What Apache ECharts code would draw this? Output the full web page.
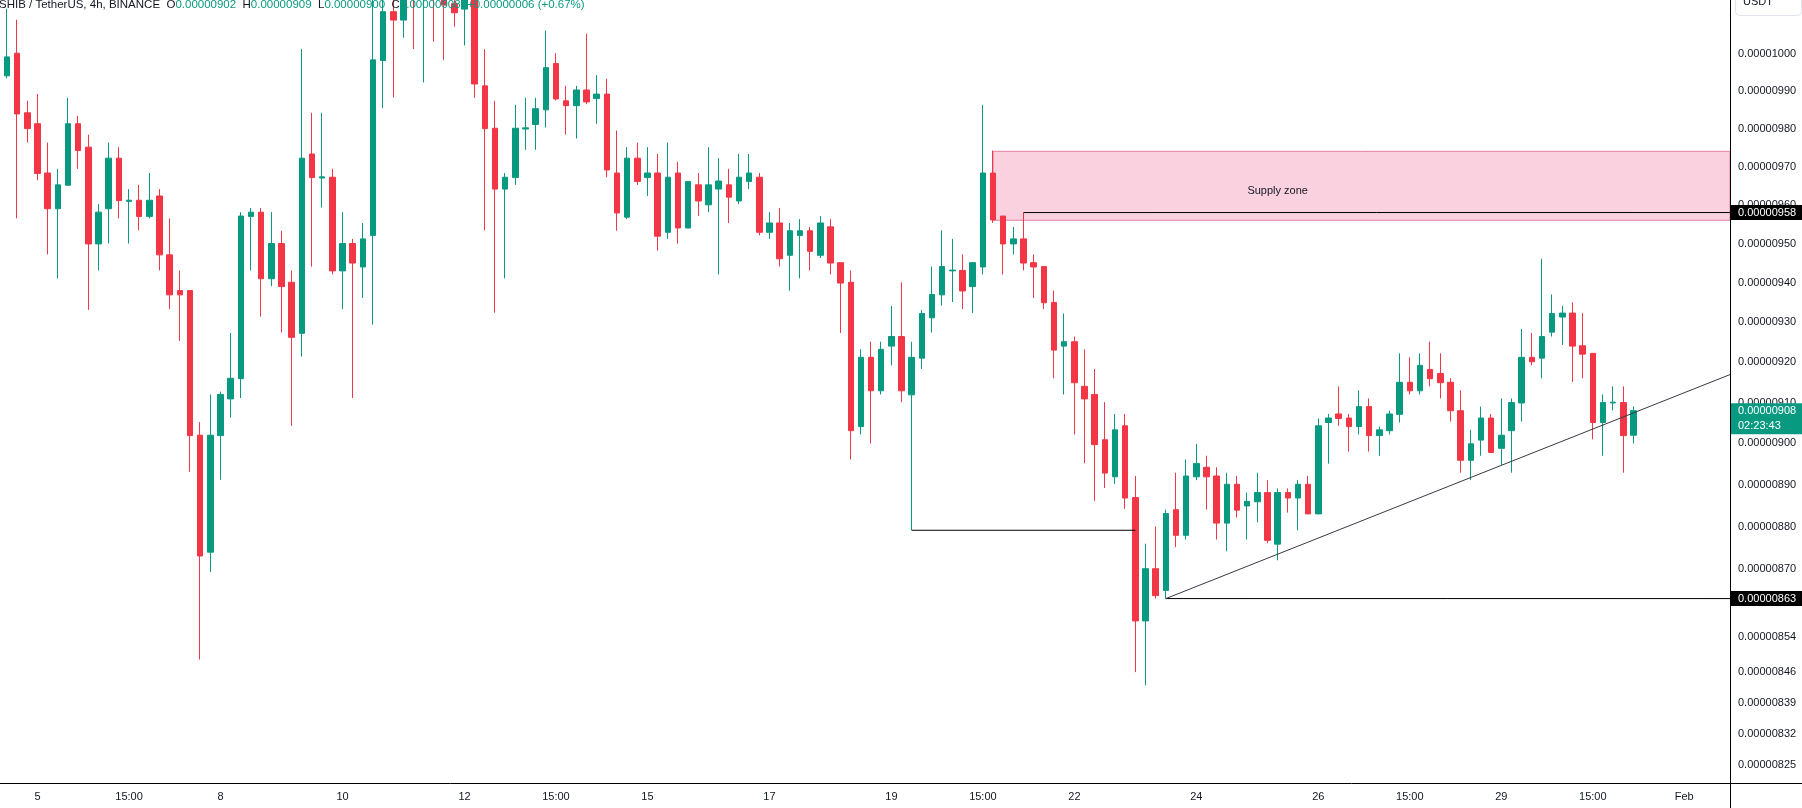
<!DOCTYPE html>
<html>
<head>
<meta charset="utf-8">
<title>SHIB / TetherUS, 4h, BINANCE</title>
<script src="https://cdn.jsdelivr.net/npm/echarts@6/dist/echarts.min.js"></script>
<style>
  html, body { margin: 0; padding: 0; background: #fff; }
  #chart { width: 1802px; height: 808px; }
</style>
</head>
<body>
<div id="chart"></div>
<script>
// all prices are in units of 0.00000001 USDT
const firstBar = Date.UTC(2024, 0, 4, 15); // exchange time, 4h bars
const slotCount = 170; // visible bar slots incl. empty space on the right

const opens = [
  994.1, 1000.2, 984.2, 981.3, 968.3, 959.0, 965.1, 981.3, 975.1, 949.9,
  959.0, 972.2, 960.9, 961.2, 957.0, 962.3, 947.1, 938.0, 938.0, 902.0,
  873.9, 901.9, 910.9, 915.9, 957.0, 958.1, 941.0, 950.0, 940.1, 927.2,
  973.3, 967.0, 967.2, 943.0, 950.0, 944.0, 952.1, 998.2, 1011.5, 1009.2,
  1026, 1018, 1025, 1017, 1013.7, 1012.2, 1019, 991.4, 980.1, 964.1,
  967.1, 979.9, 981.1, 985.0, 997.4, 987.4, 986.1, 990.3, 988.0, 989.2,
  968.3, 956.8, 972.2, 967.1, 968.3, 952.9, 968.3, 954.0, 965.2, 960.0,
  964.1, 965.2, 961.0, 966.1, 967.2, 952.9, 955.3, 947.0, 952.1, 953.3,
  947.0, 954.3, 945.1, 940.1, 904.1, 921.2, 912.9, 924.0, 926.4, 911.9,
  921.0, 931.1, 936.9, 943.0, 943.1, 939.0, 944.0, 968.3, 957.1, 949.9,
  951.2, 945.1, 944.1, 935.0, 924.0, 925.1, 914.0, 912.0, 900.9, 891.9,
  904.3, 886.9, 857.8, 870.0, 864.9, 884.0, 877.9, 891.9, 894.2, 892.1,
  880.8, 890.1, 884.9, 885.9, 888.1, 875.8, 888.1, 886.8, 890.1, 883.0,
  905.1, 907.2, 906.2, 904.1, 909.0, 901.9, 903.1, 907.1, 915.0, 912.9,
  918.2, 917.2, 915.0, 908.0, 895.9, 900.8, 906.2, 898.8, 903.1, 909.9,
  921.2, 921.0, 927.5, 931.3, 932.3, 924.1, 922.2, 905.1, 909.9, 910.0,
  902.0
];
const closes = [
  999.2, 983.9, 980.0, 968.2, 959.0, 965.2, 981.3, 974.2, 949.9, 958.1,
  972.2, 961.1, 961.2, 957.0, 961.2, 947.1, 936.9, 936.9, 901.9, 873.0,
  902.0, 912.0, 916.0, 957.1, 958.1, 941.0, 950.0, 939.0, 926.2, 972.2,
  967.1, 967.3, 943.0, 950.0, 945.0, 951.2, 998.4, 1011.5, 1009.2, 1022,
  1018, 1025, 1017, 1013.3, 1011.2, 1019, 991.9, 980.0, 964.1, 967.2,
  980.1, 980.2, 985.3, 996.3, 987.9, 986.1, 990.3, 987.1, 989.2, 969.1,
  957.9, 972.2, 966.1, 968.3, 951.9, 967.2, 954.0, 966.1, 961.0, 965.2,
  966.2, 962.0, 967.2, 968.3, 952.9, 955.3, 946.1, 953.3, 953.3, 948.0,
  955.3, 945.0, 939.9, 903.1, 921.2, 912.9, 923.2, 926.4, 912.9, 921.2,
  932.2, 937.0, 944.1, 943.2, 937.9, 945.1, 968.3, 956.1, 949.9, 951.2,
  945.0, 944.0, 934.9, 923.0, 925.1, 914.9, 910.9, 899.7, 892.8, 903.3,
  886.8, 857.8, 870.0, 863.7, 883.1, 877.9, 892.1, 895.1, 891.9, 880.8,
  890.1, 883.9, 886.0, 888.1, 876.7, 888.1, 886.8, 890.1, 883.0, 904.3,
  906.2, 906.1, 904.1, 909.0, 901.9, 903.3, 907.2, 915.0, 912.9, 919.2,
  915.9, 914.9, 908.0, 895.9, 899.9, 906.2, 897.8, 902.0, 910.0, 921.2,
  920.1, 926.4, 932.2, 932.3, 924.0, 922.0, 905.1, 910.0, 910.1, 901.9,
  908.0
];
const lows = [
  993.4, 956.5, 976.3, 966.4, 947.2, 941.1, 965.1, 969.4, 933.1, 943.1,
  950.0, 956.5, 950.0, 953.4, 956.5, 943.1, 933.3, 925.3, 893.1, 848.9,
  869.2, 891.2, 906.3, 911.1, 943.1, 931.4, 939.1, 927.4, 904.3, 921.4,
  944.1, 959.3, 942.1, 933.3, 911.1, 936.1, 929.4, 985.4, 988.3, 1004.4,
  1001.3, 992.3, 1003.3, 998.4, 1007.4, 1002.3, 988.2, 953.4, 932.4, 941.1,
  965.2, 974.4, 974.4, 980.3, 987.5, 978.4, 977.4, 986.5, 981.3, 967.2,
  953.3, 956.3, 965.2, 962.3, 948.2, 951.2, 950.0, 954.0, 957.1, 958.1,
  942.1, 955.3, 960.2, 964.1, 952.1, 951.2, 944.1, 938.0, 941.1, 943.1,
  946.3, 942.1, 927.3, 896.1, 902.2, 900.0, 912.0, 919.2, 910.1, 879.1,
  918.3, 927.4, 934.2, 935.1, 933.3, 932.3, 942.1, 955.3, 942.1, 947.2,
  943.1, 936.1, 933.3, 916.0, 912.0, 902.2, 895.2, 886.1, 889.2, 890.2,
  884.2, 846.0, 843.0, 863.0, 863.0, 875.1, 876.9, 891.1, 884.0, 876.9,
  874.1, 882.1, 876.9, 881.0, 876.0, 872.0, 883.3, 879.1, 883.0, 883.0,
  895.1, 904.3, 898.0, 902.2, 898.0, 897.0, 902.2, 905.1, 912.0, 912.0,
  914.0, 911.0, 905.3, 892.9, 891.1, 897.0, 897.8, 894.8, 892.9, 905.3,
  919.2, 916.0, 926.4, 924.3, 915.1, 916.0, 901.0, 897.0, 908.1, 892.9,
  900.0
];
const highs = [
  1012.3, 1009.3, 987.4, 989.2, 976.3, 969.4, 988.2, 983.4, 978.4, 960.2,
  976.3, 975.1, 964.1, 965.2, 968.3, 964.1, 956.5, 943.1, 938.0, 905.2,
  912.0, 912.7, 927.3, 958.1, 959.2, 959.2, 958.1, 953.3, 943.1, 1001.3,
  984.2, 984.2, 969.4, 958.1, 951.2, 955.3, 1016, 1016, 1016, 1026,
  1034, 1032, 1030, 1022, 1018, 1024, 1022, 1001.3, 987.4, 968.3,
  986.3, 988.2, 988.2, 1006.3, 1000.2, 991.4, 991.4, 1005.5, 994.3, 993.3,
  979.5, 975.1, 976.3, 975.1, 973.3, 976.3, 971.2, 966.1, 968.3, 975.1,
  972.2, 969.4, 973.3, 973.3, 968.3, 958.1, 959.2, 955.3, 956.3, 954.3,
  957.1, 956.3, 945.1, 943.1, 923.2, 925.1, 925.1, 934.1, 940.1, 925.1,
  933.1, 944.1, 953.4, 951.2, 947.2, 945.1, 986.3, 974.2, 957.1, 954.3,
  958.0, 947.2, 944.1, 938.0, 932.2, 926.4, 923.2, 918.3, 910.1, 907.2,
  907.2, 892.1, 875.9, 880.0, 884.0, 892.9, 896.1, 899.9, 897.0, 894.2,
  892.9, 892.1, 888.1, 892.9, 891.1, 889.1, 889.1, 891.1, 892.1, 906.1,
  907.2, 914.0, 907.2, 913.0, 911.0, 904.1, 908.0, 922.2, 921.2, 922.2,
  925.1, 922.2, 916.0, 913.0, 903.3, 909.0, 907.2, 911.0, 911.0, 928.3,
  927.3, 946.1, 937.0, 934.1, 935.0, 932.3, 922.2, 912.0, 914.0, 914.0,
  909.0
];

const priceMin = 821.0;
const priceMax = 1014.7;
const yTickValues = [1000, 990, 980, 970, 960, 950, 940, 930, 920, 910, 900, 890, 880, 870, 854, 846, 839, 832, 825];
const xTickLabels = {
  '01-05 03:00': '5', '01-06 15:00': '15:00', '01-08 03:00': '8', '01-10 03:00': '10',
  '01-12 03:00': '12', '01-13 15:00': '15:00', '01-15 03:00': '15', '01-17 03:00': '17',
  '01-19 03:00': '19', '01-20 15:00': '15:00', '01-22 03:00': '22', '01-24 03:00': '24',
  '01-26 03:00': '26', '01-27 15:00': '15:00', '01-29 03:00': '29', '01-30 15:00': '15:00',
  '02-01 03:00': 'Feb'
};

// drawings (bar index, price)
const supplyZone = { from: 97, top: 974, bottom: 956, textAt: 125, text: 'Supply zone' };
const levelLines = [
  { from: 100, price: 958 },
  { from: 114, price: 863 }
];
const rangeLine = { from: 89, to: 111, price: 879.1 };
const trendLine = [[114, 863], [156, 903.5]];
const priceTags = [
  { price: 958, text: '0.00000958', color: '#000000' },
  { price: 863, text: '0.00000863', color: '#000000' },
  { price: 908, text: '0.00000908', sub: '02:23:43', color: '#089981' }
];
const headerParts = [
  ['n', 'SHIB / TetherUS, 4h, BINANCE'],
  ['k', '  O'], ['v', '0.00000902'],
  ['k', '  H'], ['v', '0.00000909'],
  ['k', '  L'], ['v', '0.00000900'],
  ['k', '  C'], ['v', '0.00000908'],
  ['v', '  +0.00000006 (+0.67%)']
];

const upColor = '#089981';
const downColor = '#F23645';
const textColor = '#131722';
const font = '"Liberation Sans", Arial, sans-serif';
const gridRight = 72;
const gridBottom = 25;

function pad(n) {
  return String(n).padStart(2, '0');
}

const categories = [];
for (let i = 0; i < slotCount; i++) {
  const d = new Date(firstBar + i * 4 * 3600 * 1000);
  categories.push(pad(d.getUTCMonth() + 1) + '-' + pad(d.getUTCDate()) + ' ' + pad(d.getUTCHours()) + ':00');
}

const candleData = opens.map((o, i) => [o, closes[i], lows[i], highs[i]]);

const chart = echarts.init(document.getElementById('chart'));
const W = 1802;
const H = 808;

const headerStyle = { fontSize: 11.5, fontWeight: 'normal', fontFamily: font };

const option = {
  animation: false,
  backgroundColor: '#ffffff',
  textStyle: { fontFamily: font },
  title: {
    text: headerParts.map((p) => '{' + p[0] + '|' + p[1] + '}').join(''),
    left: -1,
    top: -1,
    padding: 0,
    textStyle: {
      fontWeight: 'normal',
      rich: {
        n: Object.assign({ color: textColor }, headerStyle),
        k: Object.assign({ color: textColor }, headerStyle),
        v: Object.assign({ color: upColor }, headerStyle)
      }
    }
  },
  grid: { left: 2, right: gridRight, top: 0, bottom: gridBottom },
  xAxis: {
    type: 'category',
    data: categories,
    boundaryGap: true,
    axisLine: { show: false },
    axisTick: { show: false },
    splitLine: { show: false },
    axisLabel: {
      interval: (idx, value) => value in xTickLabels,
      formatter: (value) => xTickLabels[value] || '',
      color: textColor,
      fontSize: 11,
      margin: 8
    }
  },
  yAxis: {
    type: 'log',
    logBase: 10,
    position: 'right',
    min: priceMin,
    max: priceMax,
    axisLine: { show: false },
    axisTick: { show: false },
    splitLine: { show: false },
    minorTick: { show: false },
    axisLabel: {
      customValues: yTickValues,
      formatter: (v) => (v / 1e8).toFixed(8),
      color: textColor,
      fontSize: 11,
      margin: 8
    }
  },
  graphic: [
    {
      type: 'line',
      shape: { x1: 0, y1: H - gridBottom + 0.5, x2: W, y2: H - gridBottom + 0.5 },
      style: { stroke: '#000', lineWidth: 1 },
      z: 50
    },
    {
      type: 'line',
      shape: { x1: W - gridRight + 0.5, y1: 0, x2: W - gridRight + 0.5, y2: H },
      style: { stroke: '#000', lineWidth: 1 },
      z: 50
    },
    {
      type: 'rect',
      left: W - gridRight + 5,
      top: -8,
      shape: { width: 66, height: 23, r: 4 },
      style: { fill: '#fff', stroke: '#e0e3eb', lineWidth: 1 },
      z: 60
    },
    {
      type: 'text',
      left: W - gridRight + 13,
      top: -4,
      style: { text: 'USDT', fontSize: 11, fill: textColor, fontFamily: font },
      z: 61
    }
  ],
  series: [
    {
      // supply zone rectangle, extended to the right edge
      type: 'custom',
      z: 1,
      silent: true,
      data: [[supplyZone.from, supplyZone.top]],
      renderItem(params, api) {
        const p1 = api.coord([supplyZone.from, supplyZone.top]);
        const p2 = api.coord([supplyZone.from, supplyZone.bottom]);
        const right = params.coordSys.x + params.coordSys.width;
        const tx = api.coord([supplyZone.textAt, supplyZone.top])[0];
        return {
          type: 'group',
          children: [
            {
              type: 'rect',
              shape: { x: p1[0], y: p1[1], width: right - p1[0], height: p2[1] - p1[1] },
              style: { fill: '#f9d1df', stroke: '#e6809f', lineWidth: 1 }
            },
            {
              type: 'text',
              style: {
                text: supplyZone.text,
                x: tx,
                y: (p1[1] + p2[1]) / 2 + 5,
                fill: textColor,
                fontSize: 11,
                fontFamily: font,
                align: 'center',
                verticalAlign: 'middle'
              }
            }
          ]
        };
      }
    },
    {
      type: 'candlestick',
      data: candleData,
      barWidth: 6,
      itemStyle: {
        color: upColor,
        color0: downColor,
        borderColor: upColor,
        borderColor0: downColor,
        borderWidth: 1
      }
    },
    {
      // horizontal levels, range line and trend line
      type: 'custom',
      z: 5,
      silent: true,
      data: [[0, 900]],
      renderItem(params, api) {
        const right = params.coordSys.x + params.coordSys.width;
        const children = [];
        levelLines.forEach((l) => {
          const p = api.coord([l.from, l.price]);
          children.push({
            type: 'line',
            shape: { x1: p[0], y1: p[1], x2: right, y2: p[1] },
            style: { stroke: '#000', lineWidth: 1 }
          });
        });
        const r1 = api.coord([rangeLine.from, rangeLine.price]);
        const r2 = api.coord([rangeLine.to, rangeLine.price]);
        children.push({
          type: 'line',
          shape: { x1: r1[0], y1: r1[1], x2: r2[0], y2: r2[1] },
          style: { stroke: '#000', lineWidth: 1 }
        });
        const t1 = api.coord(trendLine[0]);
        const t2 = api.coord(trendLine[1]);
        const slope = (t2[1] - t1[1]) / (t2[0] - t1[0]);
        children.push({
          type: 'line',
          shape: { x1: t1[0], y1: t1[1], x2: right, y2: t1[1] + slope * (right - t1[0]) },
          style: { stroke: '#363a45', lineWidth: 1 }
        });
        return { type: 'group', children };
      }
    },
    {
      // price tags on the scale
      type: 'custom',
      z: 10,
      silent: true,
      clip: false,
      data: priceTags.map((t) => [0, t.price]),
      renderItem(params, api) {
        const tag = priceTags[params.dataIndex];
        const y = api.coord([0, tag.price])[1];
        const x = params.coordSys.x + params.coordSys.width;
        const h = tag.sub ? 31 : 15;
        const children = [
          {
            type: 'rect',
            shape: { x: x, y: y - 7.5, width: api.getWidth() - x, height: h },
            style: { fill: tag.color }
          },
          {
            type: 'text',
            style: {
              text: tag.text, x: x + 8, y: y, fill: '#fff',
              fontSize: 11, fontFamily: font, align: 'left', verticalAlign: 'middle'
            }
          }
        ];
        if (tag.sub) {
          children.push({
            type: 'text',
            style: {
              text: tag.sub, x: x + 8, y: y + 15, fill: '#fff',
              fontSize: 11, fontFamily: font, align: 'left', verticalAlign: 'middle'
            }
          });
        }
        return { type: 'group', children };
      }
    }
  ]
};

chart.setOption(option);
</script>
</body>
</html>
